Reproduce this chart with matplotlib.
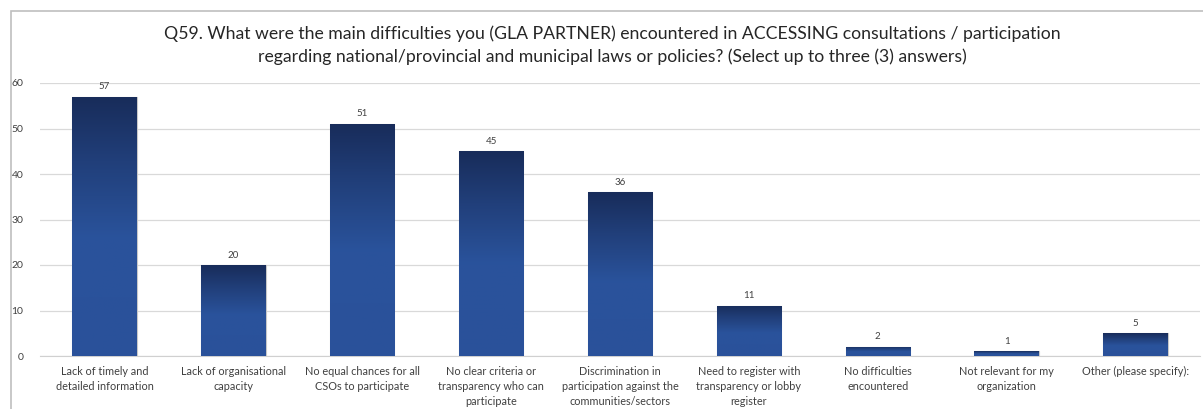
import numpy as np
import matplotlib
matplotlib.use("Agg")
import matplotlib.pyplot as plt
from matplotlib.colors import LinearSegmentedColormap
from matplotlib.patches import Rectangle

plt.rcParams['font.family'] = ['Lato', 'DejaVu Sans']

title = ("Q59. What were the main difficulties you (GLA PARTNER) encountered in ACCESSING consultations / participation\n"
         "regarding national/provincial and municipal laws or policies? (Select up to three (3) answers)")

categories = [
    "Lack of timely and\ndetailed information",
    "Lack of organisational\ncapacity",
    "No equal chances for all\nCSOs to participate",
    "No clear criteria or\ntransparency who can\nparticipate",
    "Discrimination in\nparticipation against the\ncommunities/sectors",
    "Need to register with\ntransparency or lobby\nregister",
    "No difficulties\nencountered",
    "Not relevant for my\norganization",
    "Other (please specify):",
]
counts = [57, 20, 51, 45, 36, 11, 2, 1, 5]
yticks = [0, 10, 20, 30, 40, 50, 60]

W, H = 1203, 409
fig = plt.figure(figsize=(W / 100, H / 100), dpi=100)
ax = fig.add_axes([40 / W, 1 - 356 / H, 1160 / W, 273 / H])

# dark navy at the top of each bar fading into a mid blue
grad = LinearSegmentedColormap.from_list(
    "bar", [(0.0, "#2a519a"), (0.45, "#2a539c"), (0.75, "#213f7a"), (1.0, "#182c5a")])
g = np.linspace(0, 1, 256).reshape(-1, 1)

x = np.arange(len(categories))
bw = 0.5
bars = ax.bar(x, counts, width=bw, color="#182c5a", edgecolor="#c8c8c8", linewidth=0.8, zorder=2)
for b, v in zip(bars, counts):
    x0 = b.get_x()
    im = ax.imshow(g, cmap=grad, aspect="auto", origin="lower",
                   extent=[x0, x0 + bw, 0, v], zorder=3, interpolation="bilinear")
    im.set_clip_path(b)
    ax.text(x0 + bw / 2, v + 1.2, str(v), ha="center", va="bottom",
            fontsize=7, color="#404040")

ax.set_xlim(-0.5, len(categories) - 0.5)
ax.set_ylim(0, 60)
ax.set_yticks(yticks)
ax.set_xticks(x)
ax.set_xticklabels(categories, fontsize=7.8, color="#404040", linespacing=1.45)
ax.tick_params(axis="y", labelsize=7.5, colors="#404040", length=0, pad=12)
ax.tick_params(axis="x", length=0, pad=7)
ax.grid(axis="y", color="#d9d9d9", linewidth=0.9, zorder=0)
ax.set_axisbelow(True)
for s in ["top", "right", "left"]:
    ax.spines[s].set_visible(False)
ax.spines["bottom"].set_color("#d0d0d0")

fig.text(612 / W, 1 - 45 / H, title, ha="center", va="center", fontsize=12.7,
         color="#262626", linespacing=1.5)

# outer chart frame (runs off the right and bottom edges)
fig.patches.append(Rectangle((11 / W, -0.1), 1.2, 1.1 - 11 / H, transform=fig.transFigure,
                             fill=False, edgecolor="#bfbfbf", linewidth=1.2))

fig.savefig("out.png", dpi=100)
